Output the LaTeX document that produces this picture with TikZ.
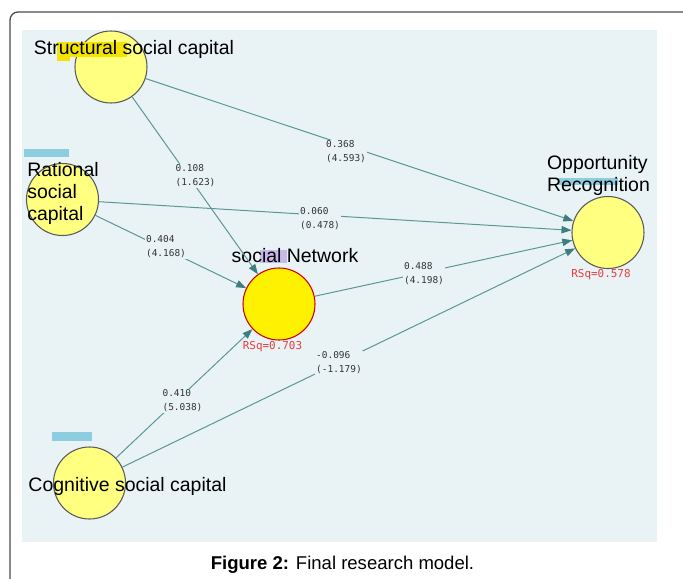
\documentclass[tikz,border=0pt]{standalone}
\usepackage{fontspec}
\setmainfont{Liberation Sans}
\newfontfamily\coeffont{DejaVu Sans Mono}
\usepackage{tikz}
\usetikzlibrary{positioning}
\usetikzlibrary{calc,arrows.meta}

\definecolor{PanelBlue}{RGB}{233,243,245}
\definecolor{LatentYellow}{RGB}{255,255,128}
\definecolor{PathTeal}{RGB}{92,150,150}
\definecolor{TipTeal}{RGB}{62,126,128}
\definecolor{RSqRed}{RGB}{228,60,64}
\definecolor{MarkYellow}{RGB}{245,228,0}
\definecolor{MarkCyan}{RGB}{140,206,224}
\definecolor{MarkViolet}{RGB}{200,185,232}

\tikzset{
	latent/.style={circle, draw=black!65, line width=0.8pt, fill=LatentYellow,
		minimum size=54pt, inner sep=0pt},
	latentLabel/.style={font=\fontsize{14.6}{16.8}\selectfont, align=left, inner sep=0pt},
	pathArrow/.style={draw=PathTeal, line width=0.75pt,
		-{Triangle[length=7.5pt,width=5.5pt,color=TipTeal]}},
	coeff/.style={font=\coeffont\fontsize{7.1}{10.5}\selectfont, text=black!80,
		fill=PanelBlue, inner sep=0.6pt, align=left},
	rsq/.style={font=\coeffont\fontsize{8.2}{10}\selectfont, text=RSqRed, inner sep=0pt},
}

\begin{document}
\begin{tikzpicture}[x=0.75pt,y=-0.75pt]

	\useasboundingbox (0,0) rectangle (683,579);
	\clip (0,0) rectangle (683,579);

	% outer frame and model panel
	\draw[rounded corners=6pt, draw=black!70, line width=1pt] (10,12) rectangle (700,600);
	\fill[PanelBlue] (22,30) rectangle (657,542);

	% latent variables, centres in picture pixels
	\node[latent] (Struct) at (111,67) {};
	\node[latent] (Rational) at (62.5,199.5) {};
	\node[latent, fill=yellow, draw=red!80!black] (Network) at (279,304) {};
	\node[latent] (Opport) at (608,232.5) {};
	\node[latent] (Cognit) at (89.5,483) {};

	% marker strokes over the labels
	\fill[MarkYellow] (57,42) rectangle (70,61);
	\fill[MarkYellow] (57,42) rectangle (127,57);
	\fill[MarkCyan] (24,149) rectangle (69,157);
	\fill[MarkCyan] (52,432) rectangle (92,441);
	\fill[MarkCyan] (558,178) rectangle (618,185);
	\fill[MarkViolet] (260,250) rectangle (287,263);

	% names of the constructs
	\node[latentLabel] (StructLabel) at ($(Struct)+(23,-18)$) {Structural social capital};
	\node[latentLabel, anchor=west] (RationalLabel) at ($(Rational)+(-35.5,-6)$) {Rational\\social\\capital};
	\node[latentLabel] (NetworkLabel) at ($(Network)+(16,-48)$) {social Network};
	\node[latentLabel] (OpportLabel) at ($(Opport)+(-9.5,-57)$) {Opportunity\\Recognition};
	\node[latentLabel] (CognitLabel) at ($(Cognit)+(38,3)$) {Cognitive social capital};

	\node[rsq] (NetworkRSq) at ($(Network)+(-6.5,43)$) {RSq=0.703};
	\node[rsq] (OpportRSq) at ($(Opport)+(-7,42.5)$) {RSq=0.578};

	%%%%%%%%%%%%%%%%%%%%%%%%%%%%%%%%%%%%%%%%%%%%%%%%%%%%%%%%%%%%%%
	% structural paths
	\draw[pathArrow] (Struct) -- (Opport);
	\draw[pathArrow] (Struct) -- (Network);
	\draw[pathArrow] (Rational) -- (Opport);
	\draw[pathArrow] (Rational) -- (Network);
	\draw[pathArrow] (Network) -- (Opport);
	\draw[pathArrow] (Cognit) -- (Network);
	\draw[pathArrow] (Cognit) -- (Opport);

	% path coefficients (t values)
	\node[coeff] (StructOpport) at (346,152) {0.368\\(4.593)};
	\node[coeff] (StructNetwork) at (195.5,176) {0.108\\(1.623)};
	\node[coeff] (RationalOpport) at (320,219) {0.060\\(0.478)};
	\node[coeff] (RationalNetwork) at (166,247) {0.404\\(4.168)};
	\node[coeff] (NetworkOpport) at (424,274) {0.488\\(4.198)};
	\node[coeff] (CognitOpport) at (339,363) {-0.096\\(-1.179)};
	\node[coeff] (CognitNetwork) at (182.5,401) {0.410\\(5.038)};

	\node[font=\fontsize{13.9}{16}\selectfont] (Caption) at (342.5,565) {\textbf{Figure 2:} Final research model.};

\end{tikzpicture}
\end{document}
